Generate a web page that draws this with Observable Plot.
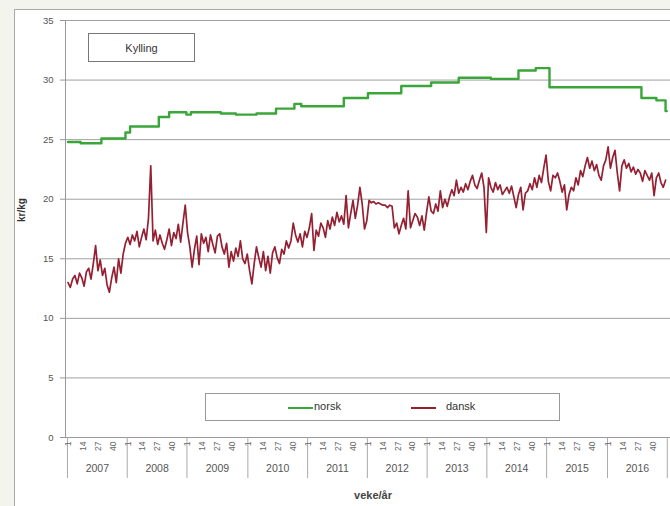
<!DOCTYPE html>
<html>
<head>
<meta charset="utf-8">
<script src="https://cdn.jsdelivr.net/npm/d3@7"></script>
<script src="https://cdn.jsdelivr.net/npm/@observablehq/plot@0.6"></script>
<style>
  html, body { margin: 0; padding: 0; background: #f4f4ee; }
  #wrap { position: relative; width: 670px; height: 506px; overflow: hidden; background: #f4f4ee;
          font-family: "Liberation Sans", Arial, sans-serif; }
  #panel { position: absolute; left: 14px; top: 9px; width: 670px; height: 520px; background: #fff;
           border: 1px solid #a8a8a8; box-sizing: border-box; }
  #chart { position: absolute; left: 0; top: 0; }
  .box { position: absolute; background: #fff; border: 1px solid #777; box-sizing: border-box; }
  #title { left: 88px; top: 33px; width: 107px; height: 29px; font-size: 11px; color: #333;
           display: flex; align-items: center; justify-content: center; }
  #legend { left: 205px; top: 393px; width: 355px; height: 28px; font-size: 11px; color: #333; border-color: #999; }
  .sw { position: absolute; top: 13px; width: 25px; height: 2px; }
  .lt { position: absolute; top: 6px; }
  #ylab { position: absolute; left: 21px; top: 210px; transform: translate(-50%, -50%) rotate(-90deg);
          font-size: 10px; font-weight: bold; color: #333; white-space: nowrap; }
  #xlab { position: absolute; left: 373px; top: 495px; transform: translate(-50%, -50%);
          font-size: 11px; font-weight: bold; color: #444; white-space: nowrap; }
</style>
</head>
<body>
<div id="wrap">
  <div id="panel"></div>
  <div id="chart"></div>
  <div id="title" class="box">Kylling</div>
  <div id="legend" class="box">
    <div class="sw" style="left:82px;background:#3aa63a"></div><div class="lt" style="left:108px">norsk</div>
    <div class="sw" style="left:205px;background:#942032"></div><div class="lt" style="left:240px">dansk</div>
  </div>
  <div id="ylab">kr/kg</div>
  <div id="xlab">veke/år</div>
</div>
<script>
// ---- data ----
const years = [2007, 2008, 2009, 2010, 2011, 2012, 2013, 2014, 2015, 2016];
const weeksInYear = [52, 52, 53, 52, 52, 52, 52, 52, 53, 52];
const weekTickLabels = [1, 14, 27, 40];
const yTicks = [0, 5, 10, 15, 20, 25, 30, 35];

// dansk: price read every second week, starting 2007 week 1
const dansk = [
  13.0, 12.6, 13.3, 13.6, 12.9, 13.8, 13.4, 12.7, 13.9, 14.2, 13.3, 14.6, 16.1, 14.0, 14.9, 13.6, 14.2, 12.8, 12.2, 13.4, 14.3, 13.0, 15.0, 13.8, 15.4, 16.3,
  16.8, 16.2, 17.0, 16.5, 17.3, 16.0, 16.8, 17.5, 16.6, 18.4, 22.8, 16.5, 17.4, 16.2, 17.0, 16.3, 15.8, 16.6, 17.5, 16.1, 17.2, 16.7, 17.9, 16.4, 18.0, 19.5,
  17.2, 16.0, 14.3, 15.8, 16.9, 14.5, 17.1, 16.3, 16.8, 15.6, 17.0, 16.2, 15.5, 16.9, 17.1, 16.0, 15.4, 16.3, 14.3, 15.6, 14.8, 15.9, 15.2, 16.5, 15.0, 14.6,
  15.4, 14.0, 12.9, 14.6, 16.0, 15.1, 14.3, 15.6, 14.0, 15.2, 13.8, 15.5, 16.0, 15.1, 14.6, 15.8, 15.4, 16.5, 15.9, 16.5, 18.0, 17.0, 16.4, 17.1, 16.0, 17.3,
  16.8, 17.6, 18.8, 15.7, 17.4, 16.9, 18.0, 17.6, 16.8, 18.2, 17.5, 18.5, 17.8, 18.9, 18.1, 18.6, 17.9, 20.3, 17.6, 18.8, 19.9, 18.4, 19.5, 21.0, 19.6, 17.5,
  18.2, 19.9, 19.7, 19.8, 19.6, 19.7, 19.6, 19.5, 19.5, 19.3, 19.5, 19.4, 17.6, 18.0, 17.1, 17.8, 18.4, 17.5, 20.7, 17.6, 18.2, 18.8, 18.5, 17.8, 18.6, 17.4,
  18.9, 20.2, 19.0, 18.8, 19.6, 19.0, 20.7, 19.3, 20.0, 19.4, 20.2, 20.8, 20.3, 21.6, 20.5, 21.0, 20.6, 21.3, 20.8, 21.5, 22.0, 21.2, 20.9, 21.6, 22.2, 21.0,
  17.2, 21.8, 21.0, 20.6, 21.4, 20.8, 21.2, 20.4, 20.7, 21.0, 20.5, 21.1, 20.2, 19.3, 20.4, 21.0, 19.1, 20.5, 20.7, 21.3, 20.8, 21.8, 21.0, 22.0, 21.4, 22.6,
  23.7, 21.5, 20.7, 22.0, 21.8, 22.2, 21.5, 20.6, 21.2, 19.1, 20.4, 21.0, 20.7, 21.8, 21.2, 22.4, 21.9, 22.8, 23.5, 22.6, 23.2, 22.4, 22.9, 22.0, 21.6, 22.8, 23.3,
  24.4, 22.6, 23.5, 24.1, 22.2, 20.7, 22.8, 23.3, 22.6, 23.0, 22.3, 22.7, 22.1, 22.5, 22.2, 21.5, 22.4, 22.0, 21.6, 22.2, 20.3, 21.8, 22.2, 21.4, 21.0, 21.6
];

// norsk: price changes (year, week, new price)
const norskYear  = [2007, 2007, 2007, 2007, 2008, 2008, 2008, 2008, 2009, 2009, 2009, 2010, 2010, 2010, 2010, 2011, 2012, 2012, 2013, 2013, 2014, 2014, 2014, 2015, 2016, 2016, 2016, 2016];
const norskWeek  = [1,    12,   30,   51,   3,    28,   37,   52,   4,    30,   43,   8,    25,   41,   47,   32,   1,    30,   4,    28,   4,    28,   43,   3,    30,   43,   51,   52];
const norskValue = [24.8, 24.7, 25.1, 25.6, 26.1, 26.9, 27.3, 27.1, 27.3, 27.2, 27.1, 27.2, 27.6, 28.0, 27.8, 28.5, 28.9, 29.5, 29.8, 30.2, 30.1, 30.8, 31.0, 29.4, 28.5, 28.3, 27.4, 27.4];

// ---- derived tables ----
const yearStart = {};
let acc = 0;
years.forEach((y, i) => { yearStart[y] = acc; acc += weeksInYear[i]; });
const totalWeeks = acc;

const danskData = dansk.map((v, k) => ({u: 2 * k + 0.5, v}));
const norskData = norskValue.map((v, i) => ({u: yearStart[norskYear[i]] + norskWeek[i] - 0.5, v}));

const weekLabels = [];
years.forEach((y, i) => weekTickLabels.forEach(w => {
  if (w <= weeksInYear[i]) weekLabels.push({u: yearStart[y] + w - 0.5, t: String(w)});
}));
const yearLabels = years.map((y, i) => ({u: yearStart[y] + weeksInYear[i] / 2, t: String(y)}));
const boundaries = years.map(y => yearStart[y]).concat([totalWeeks]);

const chart = Plot.plot({
  width: 670, height: 506,
  marginLeft: 65, marginRight: 0, marginTop: 20, marginBottom: 69,
  style: {background: "transparent", fontFamily: "Liberation Sans, Arial, sans-serif"},
  x: {domain: [-1.7, 524.8], axis: null},
  y: {domain: [0, 35], axis: null},
  marks: [
    Plot.ruleY(yTicks.filter(d => d > 0), {stroke: "#a0a0a0", strokeWidth: 1}),
    Plot.axisY({ticks: yTicks, tickSize: 5, tickPadding: 7, fontSize: 9.5, color: "#555", stroke: "#999", label: null}),
    Plot.ruleX([-1.7], {y1: 0, y2: 35, stroke: "#999"}),
    Plot.ruleY([0], {stroke: "#999"}),
    Plot.ruleX(boundaries, {y1: 0, y2: -3.45, stroke: "#aaa"}),
    Plot.text(weekLabels, {x: "u", y: 0, text: "t", rotate: -90, textAnchor: "end", lineAnchor: "middle",
                           dy: 4, fontSize: 8.5, fill: "#666"}),
    Plot.text(yearLabels, {x: "u", y: 0, text: "t", dy: 31, fontSize: 10.5, fill: "#555"}),
    Plot.line(norskData, {x: "u", y: "v", curve: "step-after", stroke: "#3aa63a", strokeWidth: 2.4}),
    Plot.line(danskData, {x: "u", y: "v", stroke: "#942032", strokeWidth: 1.7, strokeLinejoin: "round"})
  ]
});
document.getElementById("chart").appendChild(chart);
</script>
</body>
</html>
